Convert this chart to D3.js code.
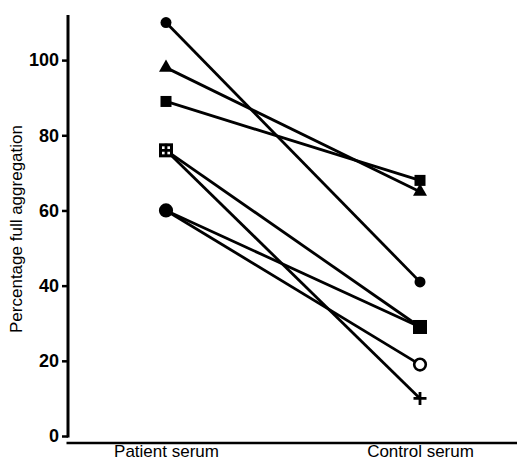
<!DOCTYPE html>
<html>
<head>
<meta charset="utf-8">
<script src="https://cdn.jsdelivr.net/npm/d3@7"></script>
<style>
  body { margin: 0; background: #fff; overflow: hidden; }
  svg { display: block; }
  .axis text { font-family: "Liberation Sans", Arial, sans-serif; }
</style>
</head>
<body>
<svg id="chart"></svg>
<script>
// groups on the x axis
const groups = ["Patient serum", "Control serum"];
// one entry per subject: patient value, control value, marker
const patientValues = [110, 98, 89, 76, 76, 60, 60];
const controlValues = [41, 65, 68, 29, 10, 29, 19];
const markers = ["circle", "triangle", "square", "squareOpen", "plus", "dot", "circleOpen"];
const yTicks = [0, 20, 40, 60, 80, 100];

const width = 517, height = 467;
const svg = d3.select('#chart')
    .attr('width', width)
    .attr('height', height);

const xScale = d3.scalePoint()
    .domain(groups)
    .range([166, 420]);

const yScale = d3.scaleLinear()
    .domain([0, 112])
    .range([436, 15]);

// y axis
const yAxis = d3.axisLeft(yScale)
    .tickValues(yTicks)
    .tickSizeInner(6)
    .tickSizeOuter(0)
    .tickPadding(3);

const yAxisG = svg.append('g')
    .attr('class', 'axis y-axis')
    .attr('transform', 'translate(68,0)')
    .call(yAxis);

yAxisG.select('.domain').attr('stroke-width', 3).attr('d', 'M0,15V437.5');
yAxisG.selectAll('.tick line').attr('stroke-width', 2.5);
yAxisG.selectAll('.tick text')
    .attr('fill', '#000')
    .style('font-size', '18px')
    .style('font-weight', 'bold');

// x axis
const xAxis = d3.axisBottom(xScale)
    .tickSize(0)
    .tickPadding(2);

const xAxisG = svg.append('g')
    .attr('class', 'axis x-axis')
    .attr('transform', 'translate(0,443)')
    .call(xAxis);

xAxisG.select('.domain').remove();
xAxisG.append('line')
    .attr('x1', 66.5).attr('x2', width)
    .attr('stroke', '#000')
    .attr('stroke-width', 2.5);
xAxisG.selectAll('.tick text')
    .attr('fill', '#000')
    .style('font-size', '17px');

// y axis title
svg.append('text')
    .attr('transform', 'translate(22,229) rotate(-90)')
    .attr('text-anchor', 'middle')
    .style('font-family', '"Liberation Sans", Arial, sans-serif')
    .style('font-size', '17px')
    .text('Percentage full aggregation');

const data = patientValues.map((p, i) => ({
    patient: p,
    control: controlValues[i],
    marker: markers[i]
}));

// lines
svg.selectAll('.pair')
    .data(data)
    .join('line')
    .attr('class', 'pair')
    .attr('x1', xScale(groups[0]))
    .attr('y1', d => yScale(d.patient))
    .attr('x2', xScale(groups[1]))
    .attr('y2', d => yScale(d.control))
    .attr('stroke', '#000')
    .attr('stroke-width', 2.8);

// markers: open ones first so the filled ones sit on top
const order = ["circleOpen", "squareOpen", "circle", "triangle", "square", "dot", "plus"];
const points = data.flatMap(d => [
    {x: xScale(groups[0]), y: yScale(d.patient), marker: d.marker},
    {x: xScale(groups[1]), y: yScale(d.control), marker: d.marker}
]).sort((a, b) => order.indexOf(a.marker) - order.indexOf(b.marker));

function drawMarker(g, m) {
    if (m === 'circle') {
        g.append('circle').attr('r', 5.5).attr('fill', '#000');
    } else if (m === 'dot') {
        g.append('circle').attr('r', 5.5).attr('fill', '#000');
    } else if (m === 'circleOpen') {
        g.append('circle').attr('r', 5.8).attr('fill', '#fff')
            .attr('stroke', '#000').attr('stroke-width', 2.6);
    } else if (m === 'square') {
        g.append('rect').attr('x', -5.5).attr('y', -5.5)
            .attr('width', 11).attr('height', 11).attr('fill', '#000');
    } else if (m === 'squareOpen') {
        g.append('rect').attr('x', -5.5).attr('y', -5.5)
            .attr('width', 11).attr('height', 11).attr('fill', '#fff')
            .attr('stroke', '#000').attr('stroke-width', 3);
    } else if (m === 'triangle') {
        g.append('path').attr('d', d3.symbol(d3.symbolTriangle, 85)()).attr('fill', '#000');
    } else if (m === 'plus') {
        g.append('path').attr('d', 'M-6.5,0H6.5M0,-6.5V6.5')
            .attr('stroke', '#000').attr('stroke-width', 2.8);
    }
}

svg.selectAll('.point')
    .data(points)
    .join('g')
    .attr('class', 'point')
    .attr('transform', d => `translate(${d.x},${d.y})`)
    .each(function(d) { drawMarker(d3.select(this), d.marker); });
</script>
</body>
</html>
